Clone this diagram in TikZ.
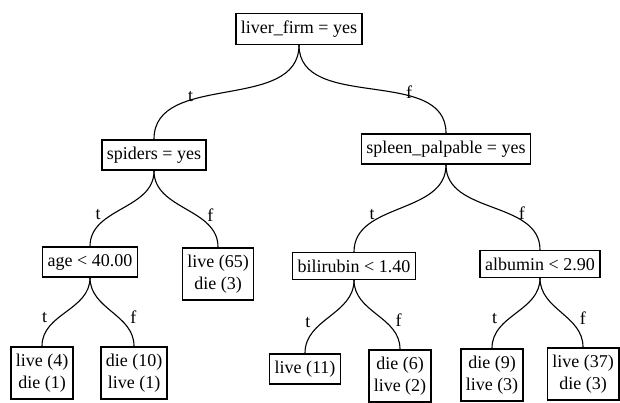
\documentclass[tikz,border=0pt]{standalone}
\usepackage{fontspec}
\setmainfont{Liberation Serif}
\usetikzlibrary{positioning}

\begin{document}
\begin{tikzpicture}[
    x=1pt, y=-1pt,          % one unit = one pixel of the page
    font=\fontsize{18}{22}\selectfont,
    line width=1.1pt,       % thickness of the branches
    test/.style={rectangle, draw, line width=1.5pt, inner xsep=5pt, inner ysep=7pt, fill=white},
    leaf/.style={rectangle, draw, line width=1.5pt, align=center, inner xsep=5pt, inner ysep=7pt, fill=white},
    branch/.style={out=-90, in=90},
    tlab/.style={pos=.6, left=8pt},
    flab/.style={pos=.6, right=8pt}
  ]
  \useasboundingbox (0,0) rectangle (620,402);

  % --- TESTS ---
  \node[test] (liver) at (299,29) {liver\_firm = yes};
  \node[test] (spiders) at (154,155) {spiders = yes};
  \node[test] (spleen) at (446,149) {spleen\_palpable = yes};
  \node[test] (age) at (90,262) {age < 40.00};
  \node[test] (bili) at (354,266) {bilirubin < 1.40};
  \node[test] (alb) at (540,264) {albumin < 2.90};

  % --- LEAVES ---
  \node[leaf] (l1) at (42,373) {live (4)\\die (1)};
  \node[leaf] (l2) at (134,373) {die (10)\\live (1)};
  \node[leaf] (l3) at (218,274) {live (65)\\die (3)};
  \node[leaf] (l4) at (305,369) {live (11)};
  \node[leaf] (l5) at (400,376) {die (6)\\live (2)};
  \node[leaf] (l6) at (492,375) {die (9)\\live (3)};
  \node[leaf] (l7) at (583,374) {live (37)\\die (3)};

  % --- BRANCHES ---
  \path (liver.south) edge[branch] node[tlab] {t} (spiders.north)
                      edge[branch] node[flab] {f} (spleen.north);

  \path (spiders.south) edge[branch] node[tlab] {t} (age.north)
                        edge[branch] node[flab] {f} (l3.north);

  \path (spleen.south) edge[branch] node[tlab] {t} (bili.north)
                       edge[branch] node[flab] {f} (alb.north);

  \path (age.south) edge[branch] node[tlab] {t} (l1.north)
                    edge[branch] node[flab] {f} (l2.north);

  \path (bili.south) edge[branch] node[tlab] {t} (l4.north)
                     edge[branch] node[flab] {f} (l5.north);

  \path (alb.south) edge[branch] node[tlab] {t} (l6.north)
                    edge[branch] node[flab] {f} (l7.north);

\end{tikzpicture}
\end{document}
